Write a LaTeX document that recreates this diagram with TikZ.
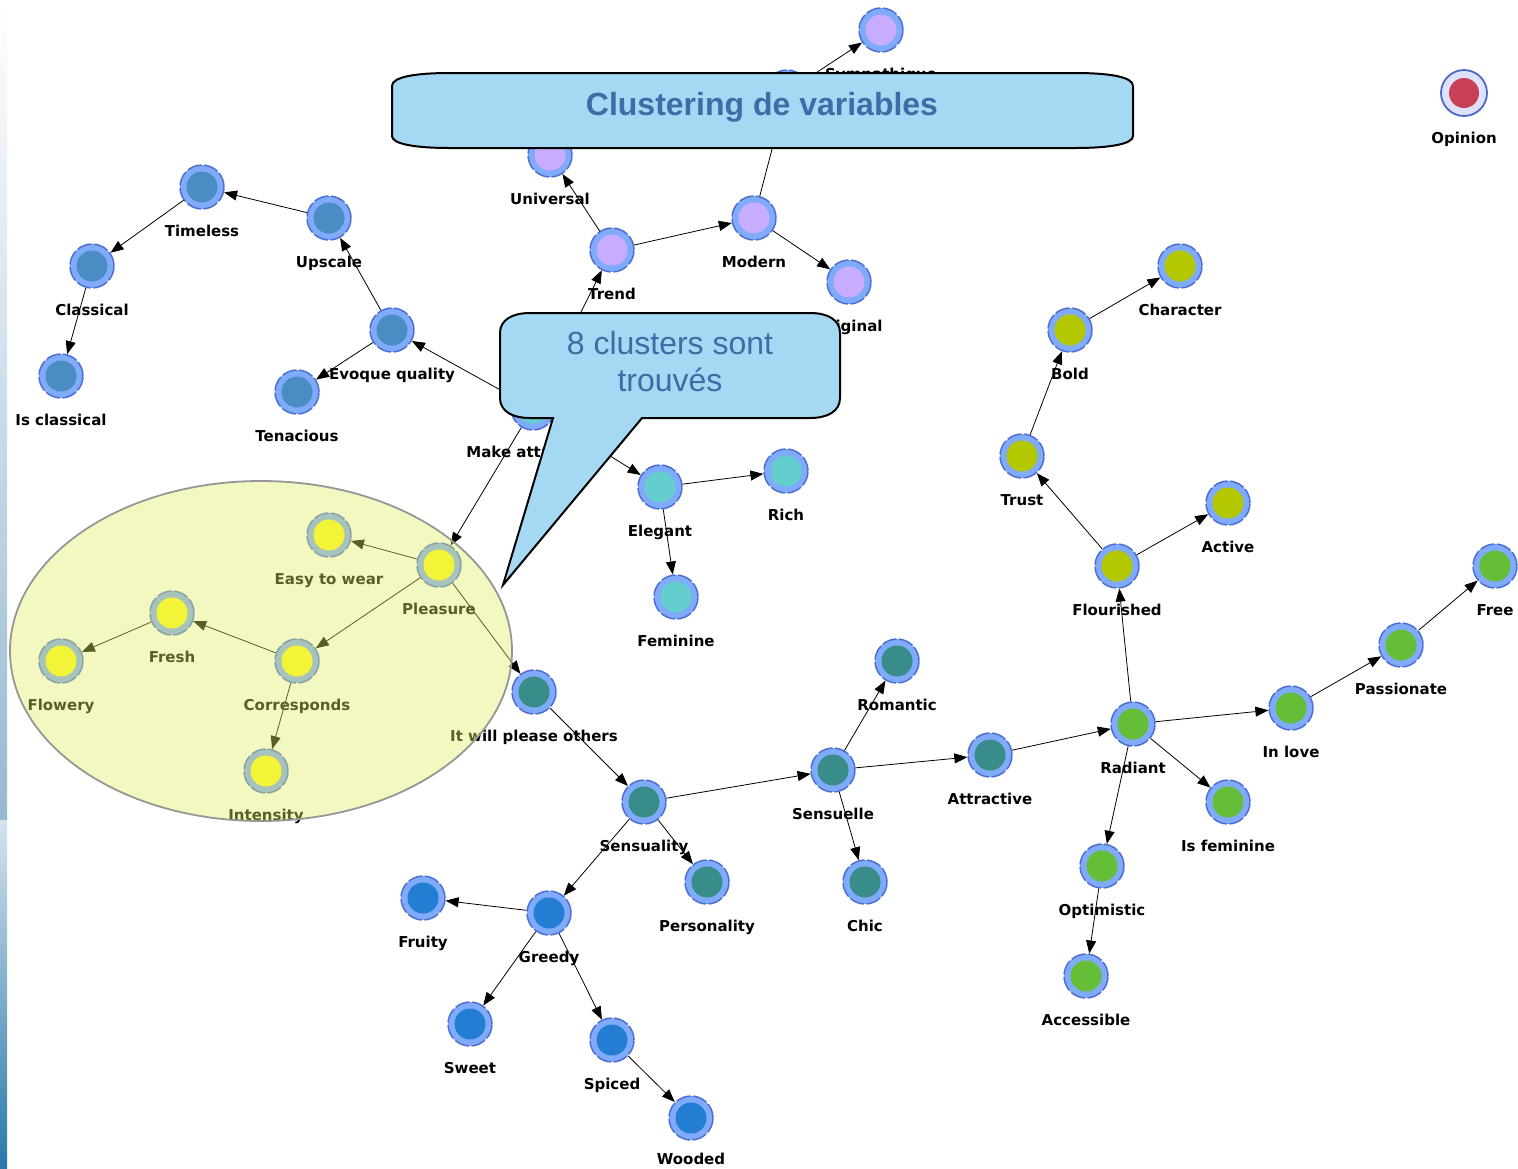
\documentclass[tikz,border=0pt]{standalone}
\usepackage{fontspec}
\setmainfont{DejaVu Sans}
\newfontfamily\calloutfont{Liberation Sans}
\definecolor{ringblue}{RGB}{128,170,250}
\definecolor{ringedge}{RGB}{78,110,212}
\definecolor{steelc}{RGB}{74,140,196}
\definecolor{lavenderc}{RGB}{200,172,255}
\definecolor{lightteal}{RGB}{100,205,205}
\definecolor{darkteal}{RGB}{56,140,138}
\definecolor{deepblue}{RGB}{35,125,210}
\definecolor{olivec}{RGB}{180,200,0}
\definecolor{greenc}{RGB}{100,190,55}
\definecolor{yellowc}{RGB}{255,250,30}
\definecolor{opinionring}{RGB}{222,225,250}
\definecolor{opinionedge}{RGB}{75,105,195}
\definecolor{opinionred}{RGB}{200,64,85}
\definecolor{tint}{RGB}{225,235,97}
\definecolor{ellipseedge}{RGB}{150,150,150}
\definecolor{bubblefill}{RGB}{165,216,243}
\definecolor{titleblue}{RGB}{59,109,166}
\definecolor{stripmid}{RGB}{150,185,210}
\definecolor{stripdark}{RGB}{40,120,170}
\usetikzlibrary{arrows.meta, positioning}

\tikzset{
  varnode/.style={circle, minimum size=44pt, inner sep=0pt, fill=ringblue,
    draw=ringedge, line width=1.5pt, dash pattern=on 15pt off 2.5pt,
    path picture={\fill[#1] (path picture bounding box.center) circle (15.5pt);}},
  lbl/.style={font=\bfseries\fontsize{15}{18}\selectfont, anchor=base, yshift=-27pt, text=black},
  edge/.style={-{Triangle[length=13pt,width=10pt]}, line width=0.8pt, black},
  bubble/.style={fill=bubblefill, draw=black, line width=2pt},
}

\begin{document}
\begin{tikzpicture}[x=1pt, y=-1pt]
  \useasboundingbox (0,0) rectangle (1518,1168);
  % slide edge on the left
  \shade[top color=white, bottom color=stripmid] (0,0) rectangle (7,820);
  \shade[top color=stripmid!40, bottom color=stripdark] (0,820) rectangle (7,1168);

  % Purple cluster
  \node[varnode=lavenderc, label={[lbl]below:Sympathique}] (sympa) at (881,30) {};
  \node[varnode=lavenderc] (hub) at (787,92) {};
  \node[varnode=lavenderc, label={[lbl]below:Universal}] (universal) at (550,155) {};
  \node[varnode=lavenderc, label={[lbl]below:Trend}] (trend) at (612,250) {};
  \node[varnode=lavenderc, label={[lbl]below:Modern}] (modern) at (754,218) {};
  \node[varnode=lavenderc, label={[lbl]below:Original}] (original) at (849,282) {};
  % Steel blue cluster
  \node[varnode=steelc, label={[lbl]below:Timeless}] (timeless) at (202,187) {};
  \node[varnode=steelc, label={[lbl]below:Upscale}] (upscale) at (329,218) {};
  \node[varnode=steelc, label={[lbl]below:Classical}] (classical) at (92,266) {};
  \node[varnode=steelc, label={[lbl]below:Is classical}] (isclassical) at (61,376) {};
  \node[varnode=steelc, label={[lbl]below:Evoque quality}] (evoque) at (392,330) {};
  \node[varnode=steelc, label={[lbl]below:Tenacious}] (tenacious) at (297,392) {};
  % Light teal cluster
  \node[varnode=lightteal, label={[lbl]below:Make attractive}] (make) at (533,408) {};
  \node[varnode=lightteal, label={[lbl]below:Elegant}] (elegant) at (660,487) {};
  \node[varnode=lightteal, label={[lbl]below:Rich}] (rich) at (786,471) {};
  \node[varnode=lightteal, label={[lbl]below:Feminine}] (feminine) at (676,597) {};
  % Yellow cluster
  \node[varnode=yellowc, label={[lbl]below:Pleasure}] (pleasure) at (439,565) {};
  \node[varnode=yellowc, label={[lbl]below:Easy to wear}] (easy) at (329,535) {};
  \node[varnode=yellowc, label={[lbl]below:Corresponds}] (corresponds) at (297,661) {};
  \node[varnode=yellowc, label={[lbl]below:Fresh}] (fresh) at (172,613) {};
  \node[varnode=yellowc, label={[lbl]below:Flowery}] (flowery) at (61,661) {};
  \node[varnode=yellowc, label={[lbl]below:Intensity}] (intensity) at (266,771) {};
  % Dark teal cluster
  \node[varnode=darkteal, label={[lbl]below:It will please others}] (please) at (534,692) {};
  \node[varnode=darkteal, label={[lbl]below:Sensuality}] (sensuality) at (644,802) {};
  \node[varnode=darkteal, label={[lbl]below:Sensuelle}] (sensuelle) at (833,770) {};
  \node[varnode=darkteal, label={[lbl]below:Personality}] (personality) at (707,882) {};
  \node[varnode=darkteal, label={[lbl]below:Romantic}] (romantic) at (897,661) {};
  \node[varnode=darkteal, label={[lbl]below:Chic}] (chic) at (865,882) {};
  \node[varnode=darkteal, label={[lbl]below:Attractive}] (attractive) at (990,755) {};
  % Blue cluster
  \node[varnode=deepblue, label={[lbl]below:Greedy}] (greedy) at (549,913) {};
  \node[varnode=deepblue, label={[lbl]below:Fruity}] (fruity) at (423,898) {};
  \node[varnode=deepblue, label={[lbl]below:Sweet}] (sweet) at (470,1024) {};
  \node[varnode=deepblue, label={[lbl]below:Spiced}] (spiced) at (612,1040) {};
  \node[varnode=deepblue, label={[lbl,yshift=3pt]below:Wooded}] (wooded) at (691,1118) {};
  % Green cluster
  \node[varnode=greenc, label={[lbl]below:Radiant}] (radiant) at (1133,724) {};
  \node[varnode=greenc, label={[lbl]below:In love}] (inlove) at (1291,708) {};
  \node[varnode=greenc, label={[lbl]below:Passionate}] (passionate) at (1401,645) {};
  \node[varnode=greenc, label={[lbl]below:Free}] (free) at (1495,566) {};
  \node[varnode=greenc, label={[lbl]below:Is feminine}] (isfeminine) at (1228,802) {};
  \node[varnode=greenc, label={[lbl]below:Optimistic}] (optimistic) at (1102,866) {};
  \node[varnode=greenc, label={[lbl]below:Accessible}] (accessible) at (1086,976) {};
  % Olive cluster
  \node[varnode=olivec, label={[lbl]below:Flourished}] (flourished) at (1117,566) {};
  \node[varnode=olivec, label={[lbl]below:Trust}] (trust) at (1022,456) {};
  \node[varnode=olivec, label={[lbl]below:Active}] (active) at (1228,503) {};
  \node[varnode=olivec, label={[lbl]below:Bold}] (bold) at (1070,330) {};
  \node[varnode=olivec, label={[lbl]below:Character}] (character) at (1180,266) {};
  % Isolated variable
  \node[circle, minimum size=46pt, inner sep=0pt, fill=opinionring, draw=opinionedge, line width=1.8pt,
    path picture={\fill[opinionred] (path picture bounding box.center) circle (15pt);},
    label={[lbl]below:Opinion}] (opinion) at (1464,93) {};

  % Edges
  \draw[edge] (make) -- (trend);
  \draw[edge] (trend) -- (universal);
  \draw[edge] (trend) -- (modern);
  \draw[edge] (modern) -- (original);
  \draw[edge] (modern) -- (hub);
  \draw[edge] (hub) -- (sympa);
  \draw[edge] (make) -- (evoque);
  \draw[edge] (evoque) -- (upscale);
  \draw[edge] (evoque) -- (tenacious);
  \draw[edge] (upscale) -- (timeless);
  \draw[edge] (timeless) -- (classical);
  \draw[edge] (classical) -- (isclassical);
  \draw[edge] (make) -- (pleasure);
  \draw[edge] (make) -- (elegant);
  \draw[edge] (elegant) -- (rich);
  \draw[edge] (elegant) -- (feminine);
  \draw[edge] (pleasure) -- (easy);
  \draw[edge] (pleasure) -- (corresponds);
  \draw[edge] (pleasure) -- (please);
  \draw[edge] (corresponds) -- (fresh);
  \draw[edge] (fresh) -- (flowery);
  \draw[edge] (corresponds) -- (intensity);
  \draw[edge] (please) -- (sensuality);
  \draw[edge] (sensuality) -- (sensuelle);
  \draw[edge] (sensuality) -- (personality);
  \draw[edge] (sensuality) -- (greedy);
  \draw[edge] (greedy) -- (fruity);
  \draw[edge] (greedy) -- (sweet);
  \draw[edge] (greedy) -- (spiced);
  \draw[edge] (spiced) -- (wooded);
  \draw[edge] (sensuelle) -- (romantic);
  \draw[edge] (sensuelle) -- (chic);
  \draw[edge] (sensuelle) -- (attractive);
  \draw[edge] (attractive) -- (radiant);
  \draw[edge] (radiant) -- (flourished);
  \draw[edge] (radiant) -- (inlove);
  \draw[edge] (radiant) -- (isfeminine);
  \draw[edge] (radiant) -- (optimistic);
  \draw[edge] (optimistic) -- (accessible);
  \draw[edge] (inlove) -- (passionate);
  \draw[edge] (passionate) -- (free);
  \draw[edge] (flourished) -- (trust);
  \draw[edge] (flourished) -- (active);
  \draw[edge] (trust) -- (bold);
  \draw[edge] (bold) -- (character);

  % Highlight of the yellow cluster
  \fill[tint, fill opacity=0.4] (261,651) ellipse [x radius=251pt, y radius=170pt];
  \draw[ellipseedge, line width=1.8pt] (261,651) ellipse [x radius=251pt, y radius=170pt];

  % Title banner
  \draw[bubble] (450,73) -- (1075,73) .. controls (1110,73) and (1133,77) .. (1133,86)
    -- (1133,136) .. controls (1133,144) and (1110,148) .. (1075,148)
    -- (450,148) .. controls (415,148) and (392,144) .. (392,136)
    -- (392,86) .. controls (392,77) and (415,73) .. (450,73) -- cycle;
  \node[font=\calloutfont\bfseries\fontsize{32}{38}\selectfont, text=titleblue] (title) at (762,107) {Clustering de variables};

  % Speech bubble
  \draw[bubble] (530,313) -- (810,313) .. controls (828,313) and (840,320) .. (840,333)
    -- (840,398) .. controls (840,411) and (828,418) .. (810,418)
    -- (642,418) -- (503,585) -- (553,418) -- (530,418)
    .. controls (512,418) and (500,411) .. (500,398)
    -- (500,333) .. controls (500,320) and (512,313) .. (530,313) -- cycle;
  \node[font=\calloutfont\fontsize{32}{37}\selectfont, text=titleblue, align=center] (note) at (670,362) {8 clusters sont\\trouvés};
\end{tikzpicture}
\end{document}
